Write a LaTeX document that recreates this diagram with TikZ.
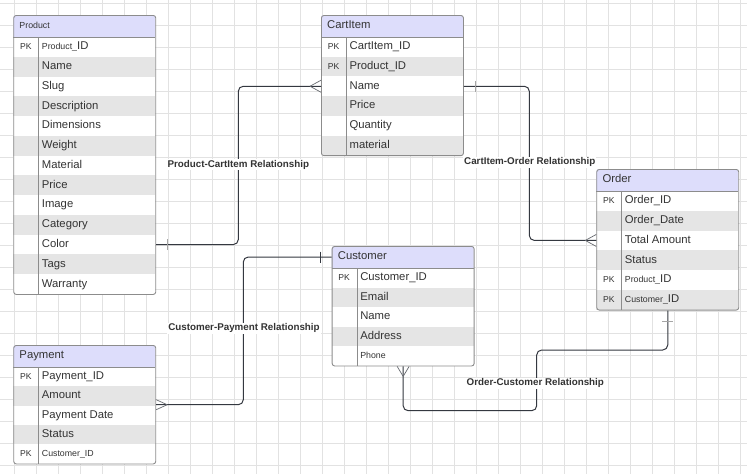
\documentclass[tikz,border=0pt]{standalone}
\usepackage{fontspec}
\setmainfont{Liberation Sans}
\definecolor{gridc}{RGB}{226,226,226}
\definecolor{framec}{RGB}{140,140,140}
\definecolor{headc}{RGB}{221,221,251}
\definecolor{zebra}{RGB}{229,229,229}
\definecolor{linec}{RGB}{52,56,64}
\definecolor{txtc}{RGB}{51,51,51}
\definecolor{tickc}{RGB}{165,165,165}
\newcommand\smallpart[1]{{\fontsize{8.8}{10}\selectfont #1}}
\tikzset{
  gridline/.style={draw=gridc, line width=0.9pt},
  tabframe/.style={draw=framec, line width=0.9pt, rounded corners=2.5pt, inner sep=0pt, anchor=north west, minimum width=142pt},
  headtext/.style={anchor=west, inner sep=0pt, text=txtc, text height=8.2pt, text depth=2.4pt, font=\fontsize{11.3}{13}\selectfont},
  keytext/.style={anchor=center, inner sep=0pt, text=txtc, text height=7.4pt, text depth=2.2pt, font=\fontsize{8.6}{10}\selectfont},
  fieldtext/.style={anchor=west, inner sep=0pt, text=txtc, text height=8.2pt, text depth=2.4pt, font=\fontsize{11.3}{13}\selectfont},
  rel/.style={draw=linec, line width=1pt, rounded corners=5pt},
  crow/.style={draw=linec!75, line width=0.7pt},
  onetick/.style={draw=tickc, line width=1pt},
  rellabel/.style={fill=white, inner sep=1pt, text=txtc, font=\bfseries\fontsize{9.8}{11}\selectfont},
}
% #1 name, #2 x, #3 y, #4 nrows, #5 row height, #6 title, #7 rows
\newcommand\ertable[7]{%
  \begin{scope}[shift={(#2,#3)}]
    \pgfmathsetmacro\tabh{22+#4*#5}
    \fill[white] (0,0) rectangle (142,\tabh);
    \fill[headc] (0,22) [rounded corners=2.5pt] -- (0,0) -- (142,0) [sharp corners] -- (142,22) -- cycle;
    \foreach [count=\i] \k/\v in {#7} {
      \pgfmathsetmacro\ya{22+(\i-1)*#5}
      \pgfmathsetmacro\yc{22+(\i-0.5)*#5}
      \ifodd\i\else \fill[zebra] (0,\ya) rectangle ++(142,#5);\fi
      \node[keytext] (#1-k\i) at (12.5,\yc) {\k};
      \node[fieldtext] (#1-\i) at (28.4,\yc) {\v};
    }
    \draw[framec, line width=0.9pt] (0,22) -- (142,22) (25.4,22) -- (25.4,\tabh);
    \node[tabframe, minimum height=\tabh pt] (#1) at (0,0) {};
    \node[headtext] (#1-h) at (6,11) {#6};
  \end{scope}
}
\begin{document}
\begin{tikzpicture}[x=1pt,y=-1pt]
\useasboundingbox (0,0) rectangle (747,474);
\fill[white] (0,0) rectangle (747,474);
\foreach \g in {0,...,33} \draw[gridline] ({14+22*\g},0) -- ({14+22*\g},474);
\foreach \g in {0,...,21} \draw[gridline] (0,{3.3+22*\g}) -- (747,{3.3+22*\g});

\ertable{product}{13.3}{15}{13}{19.77}{\smallpart{Product}}{PK/{\smallpart{Product\_}ID}, /Name, /Slug, /Description, /Dimensions, /Weight, /Material, /Price, /Image, /Category, /Color, /Tags, /Warranty}
\ertable{cartitem}{321}{15}{6}{19.7}{CartItem}{PK/CartItem\_ID, PK/Product\_ID, /Name, /Price, /Quantity, /material}
\ertable{order}{596.3}{169}{6}{19.77}{Order}{PK/Order\_ID, /Order\_Date, /Total Amount, /Status, PK/{\smallpart{Product\_}ID}, PK/{\smallpart{Customer\_}ID}}
\ertable{customer}{331.7}{246}{5}{19.5}{Customer}{PK/Customer\_ID, /Email, /Name, /Address, /{\smallpart{Phone}}}
\ertable{payment}{13.3}{345}{5}{19.3}{Payment}{PK/Payment\_ID, /Amount, /Payment Date, /Status, PK/{\smallpart{Customer\_ID}}}

% Product - CartItem
\coordinate (bend1) at (238.3,0);
\coordinate (c1a) at (product.east |- product-11);
\coordinate (c1b) at (cartitem.west |- cartitem-3);
\draw[rel] (c1a) -| (bend1 |- c1b) -- (c1b);
\draw[onetick] (c1a) ++(11.4,-5.5) -- ++(0,11);
\draw[crow] (c1b) ++(-11,0) -- ++(11,-6) ++(-11,6) -- ++(11,6);

% CartItem - Order
\coordinate (bend2) at (529.3,0);
\coordinate (c2a) at (cartitem.east |- cartitem-3);
\coordinate (c2b) at (order.west |- order-3);
\draw[rel] (c2a) -| (bend2 |- c2b) -- (c2b);
\draw[onetick] (c2a) ++(11.4,-5.5) -- ++(0,11);
\draw[crow] (c2b) ++(-11,0) -- ++(11,-6) ++(-11,6) -- ++(11,6);

% Customer - Payment
\coordinate (bend3) at (243.3,0);
\coordinate (c3a) at (customer.west |- customer-h);
\draw[rel] (c3a) -| (bend3 |- payment.east) -- (payment.east);
\draw[onetick, draw=linec] (c3a) ++(-11,-5.5) -- ++(0,11);
\draw[crow] (payment.east) ++(11,0) -- ++(-11,-5) ++(11,5) -- ++(-11,5);

% Order - Customer
\coordinate (m4a) at (536.7,350);
\coordinate (m4b) at (536.7,410.7);
\draw[rel] (order.south) |- (m4a) -- (m4b) -| (customer.south);
\draw[onetick] (order.south) ++(-5.5,11.4) -- ++(11,0);
\draw[crow] (customer.south) ++(0,10) -- ++(-6,-10) ++(6,10) -- ++(6,-10);

% labels
\node[rellabel] (l1) at (238.3,164.7) {Product-CartItem Relationship};
\node[rellabel] (l2) at (529.8,162.3) {CartItem-Order Relationship};
\node[rellabel] (l3) at (244,328.3) {Customer-Payment Relationship};
\node[rellabel] (l4) at (535.3,383.3) {Order-Customer Relationship};
\end{tikzpicture}
\end{document}
